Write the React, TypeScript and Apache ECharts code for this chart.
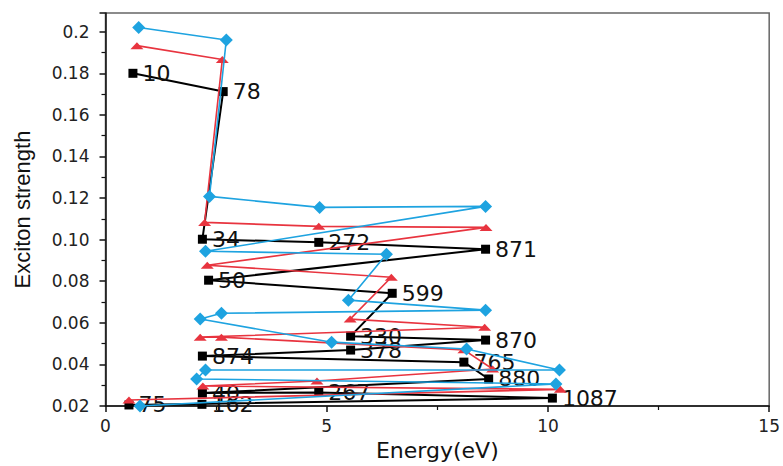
import React, { useEffect, useRef } from "react";
import * as echarts from "echarts";

// Black series (squares) with state labels
const blackX = [0.62, 2.66, 2.19, 4.82, 8.59, 2.33, 6.48, 5.54, 8.59, 5.54, 2.19, 8.1, 8.66, 2.19, 4.82, 10.1, 0.53, 2.18];
const blackY = [0.180, 0.1712, 0.1002, 0.0987, 0.0954, 0.0805, 0.0742, 0.0536, 0.0517, 0.0469, 0.0440, 0.0411, 0.0330, 0.0262, 0.0265, 0.0238, 0.0205, 0.0208];
const blackLabels = ["10", "78", "34", "272", "871", "50", "599", "330", "870", "378", "874", "765", "880", "40", "267", "1087", "75", "162"];

// Red series (triangles)
const redX = [0.71, 2.64, 2.24, 4.82, 8.6, 2.30, 6.46, 5.53, 8.57, 2.14, 2.62, 8.1, 8.75, 4.78, 2.2, 10.28, 0.53];
const redY = [0.1933, 0.1866, 0.1083, 0.1064, 0.1059, 0.0877, 0.0819, 0.0618, 0.0579, 0.0531, 0.0531, 0.0470, 0.0378, 0.0320, 0.0296, 0.0280, 0.0229];

// Blue series (diamonds)
const blueX = [0.75, 2.73, 2.35, 4.84, 8.59, 2.26, 6.35, 5.49, 8.59, 2.62, 2.14, 5.11, 8.16, 10.26, 2.26, 2.06, 10.18, 0.78];
const blueY = [0.202, 0.196, 0.1208, 0.1155, 0.116, 0.0944, 0.093, 0.0709, 0.0661, 0.0646, 0.0618, 0.0507, 0.0474, 0.0373, 0.0373, 0.0330, 0.0306, 0.0200];

// Axis ticks
const xTicks = [0, 5, 10, 15];
const yMin = 0.02;
const yMax = 0.209;
const yStep = 0.02;

export default function App() {
  const ref = useRef<HTMLDivElement>(null);
  useEffect(() => {
    if (!ref.current) return;
    const chart = echarts.init(ref.current, null, { renderer: "svg" });
    const font = "'DejaVu Sans', sans-serif";
    const nameFont = "'Liberation Sans', Arial, sans-serif";
    const pair = (xs: number[], ys: number[]) => xs.map((x, i) => [x, ys[i]]);
    chart.setOption({
      animation: false,
      backgroundColor: "#ffffff",
      grid: {
        left: 105.5,
        right: 11.5,
        top: 13,
        bottom: 57,
        show: true,
        borderColor: "#666",
        borderWidth: 1.5,
      },
      xAxis: {
        type: "value",
        min: xTicks[0],
        max: xTicks[xTicks.length - 1],
        interval: 5,
        name: "Energy(eV)",
        nameLocation: "middle",
        nameGap: 33,
        nameTextStyle: { fontFamily: font, fontSize: 22, color: "#111" },
        axisLine: { show: true, lineStyle: { color: "#111", width: 1.5 } },
        axisTick: { show: true, length: 6, lineStyle: { color: "#111", width: 1.5 } },
        minorTick: { show: true, splitNumber: 2, length: 4, lineStyle: { color: "#111", width: 1.2 } },
        axisLabel: { fontFamily: font, fontSize: 17, color: "#222", margin: 11 },
        splitLine: { show: false },
      },
      yAxis: {
        type: "value",
        min: yMin,
        max: yMax,
        interval: yStep,
        name: "Exciton strength",
        nameLocation: "middle",
        nameGap: 72,
        nameTextStyle: { fontFamily: nameFont, fontSize: 22, color: "#111" },
        axisLine: { show: true, lineStyle: { color: "#111", width: 1.5 } },
        axisTick: { show: true, length: 6, lineStyle: { color: "#111", width: 1.5 } },
        minorTick: { show: true, splitNumber: 2, length: 4, lineStyle: { color: "#111", width: 1.2 } },
        axisLabel: {
          fontFamily: font,
          fontSize: 17,
          color: "#222",
          margin: 16,
          showMaxLabel: false,
          formatter: (v: number) => (Math.abs(v - 0.2) < 1e-9 ? "0.2" : v.toFixed(2)),
        },
        splitLine: { show: false },
      },
      series: [
        {
          type: "line",
          name: "black",
          data: pair(blackX, blackY),
          symbol: "rect",
          symbolSize: 9,
          itemStyle: { color: "#000" },
          lineStyle: { color: "#000", width: 2 },
          label: {
            show: true,
            position: "right",
            distance: 5,
            fontFamily: font,
            fontSize: 22,
            color: "#111",
            formatter: (p: any) => blackLabels[p.dataIndex],
          },
          z: 2,
        },
        {
          type: "line",
          name: "red",
          data: pair(redX, redY),
          symbol: "triangle",
          symbolSize: [13, 7],
          itemStyle: { color: "#e8343f" },
          lineStyle: { color: "#e8343f", width: 1.6 },
          z: 3,
        },
        {
          type: "line",
          name: "blue",
          data: pair(blueX, blueY),
          symbol: "diamond",
          symbolSize: [13, 13],
          itemStyle: { color: "#1ea3e0" },
          lineStyle: { color: "#1ea3e0", width: 1.6 },
          z: 4,
        },
      ],
    });
    return () => chart.dispose();
  }, []);
  return (
    <div
      ref={ref}
      style={{ position: "fixed", left: 0, top: 0, width: 783, height: 466, background: "#fff" }}
    />
  );
}
